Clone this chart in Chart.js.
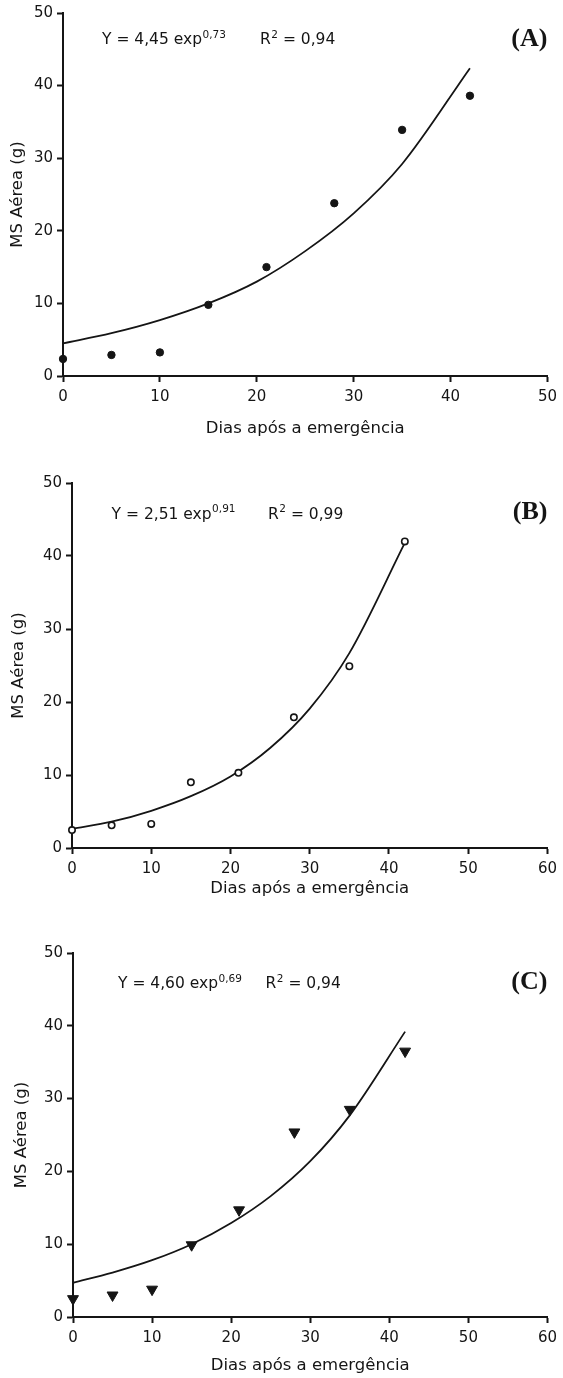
<!DOCTYPE html>
<html>
<head>
<meta charset="utf-8">
<script src="https://cdn.jsdelivr.net/npm/chart.js@4.4.1/dist/chart.umd.min.js"></script>
<style>
  body { margin: 0; background: #fff; width: 563px; height: 1378px; position: relative; overflow: hidden; }
  .painel { position: absolute; left: 0; width: 563px; }
</style>
</head>
<body>
<div class="painel" style="top:0;height:450px"><canvas id="grafA"></canvas></div>
<div class="painel" style="top:455px;height:450px"><canvas id="grafB"></canvas></div>
<div class="painel" style="top:920px;height:458px"><canvas id="grafC"></canvas></div>
<script>
// dias de coleta e MS aérea observada (g)
const dias = [0, 5, 10, 15, 21, 28, 35, 42];
const msA = [2.35, 2.9, 3.25, 9.8, 15.0, 23.8, 33.9, 38.6];
const msB = [2.45, 3.1, 3.3, 9.0, 10.3, 17.9, 24.9, 42.0];
const msC = [2.5, 3.0, 3.8, 9.9, 14.7, 25.4, 28.5, 36.5];

// curvas ajustadas (exponencial)
const diasCurva = [0, 5, 10, 15, 20, 25, 30, 35, 42];
const curvaA = [4.5, 5.9, 7.7, 10.0, 13.0, 17.2, 22.4, 29.2, 42.4];
const curvaB = [2.6, 3.6, 5.1, 7.1, 9.8, 13.7, 19.1, 26.7, 41.8];
const curvaC = [4.7, 6.1, 7.8, 10.0, 12.9, 16.6, 21.4, 27.7, 39.2];

// equações
const eqA = ['Y = 4,45 exp', '0,73', ' = 0,94'];
const eqB = ['Y = 2,51 exp', '0,91', ' = 0,99'];
const eqC = ['Y = 4,60 exp', '0,69', ' = 0,94'];

const PRETO = '#151515';
const FONTE = '"DejaVu Sans", sans-serif';

const equacao = {
  id: 'equacao',
  afterDraw(chart, args, o) {
    const ctx = chart.ctx;
    const { left, top, right } = chart.chartArea;
    ctx.save();
    ctx.fillStyle = PRETO;
    ctx.textBaseline = 'middle';
    const y = top + o.dy;
    let x = left + o.dx;
    ctx.font = '15.5px ' + FONTE;
    ctx.fillText(o.eq[0], x, y);
    x += ctx.measureText(o.eq[0]).width + 0.5;
    ctx.font = '10.5px ' + FONTE;
    ctx.fillText(o.eq[1], x, y - 5);
    x = left + o.dxR;
    ctx.font = '15.5px ' + FONTE;
    ctx.fillText('R', x, y);
    x += ctx.measureText('R').width + 0.5;
    ctx.font = '10.5px ' + FONTE;
    ctx.fillText('2', x, y - 5);
    x += ctx.measureText('2').width;
    ctx.font = '15.5px ' + FONTE;
    ctx.fillText(o.eq[2], x, y);
    // letra do painel
    ctx.font = 'bold 26px "Liberation Serif", serif';
    ctx.textAlign = 'right';
    ctx.fillText(o.painel, right, top + o.dyP);
    ctx.restore();
  }
};

function pontos(xs, ys) {
  return xs.map((d, i) => ({ x: d, y: ys[i] }));
}

function grafico(id, cfg) {
  const alturaCanvas = cfg.h;
  new Chart(document.getElementById(id), {
    type: 'line',
    data: {
      datasets: [
        {
          data: pontos(dias, cfg.obs),
          showLine: false,
          pointStyle: cfg.estilo,
          pointRotation: cfg.rot || 0,
          pointRadius: cfg.raio,
          pointBackgroundColor: cfg.fundo,
          pointBorderColor: PRETO,
          pointBorderWidth: cfg.borda,
          clip: false
        },
        {
          data: pontos(diasCurva, cfg.curva),
          borderColor: PRETO,
          borderWidth: 1.8,
          pointRadius: 0,
          cubicInterpolationMode: 'monotone',
          fill: false
        }
      ]
    },
    options: {
      animation: false,
      responsive: true,
      maintainAspectRatio: false,
      layout: { padding: { top: cfg.area.top, right: 563 - cfg.area.right, left: 0, bottom: 0 } },
      plugins: {
        legend: { display: false },
        tooltip: { enabled: false },
        equacao: cfg.eq
      },
      scales: {
        x: {
          type: 'linear',
          min: 0,
          max: cfg.xMax,
          afterFit: s => { s.height = alturaCanvas - cfg.area.bottom; },
          ticks: { stepSize: 10, color: PRETO, padding: 6, font: { family: FONTE, size: 15 } },
          grid: { drawOnChartArea: false, drawTicks: true, tickLength: 6, tickWidth: 2, tickColor: PRETO },
          border: { display: true, width: 2, color: PRETO },
          title: {
            display: true,
            text: 'Dias após a emergência',
            color: PRETO,
            font: { family: FONTE, size: 16.5 },
            padding: { top: 0, bottom: cfg.titX }
          }
        },
        y: {
          min: 0,
          max: 50,
          afterFit: s => { s.width = cfg.area.left; },
          ticks: { stepSize: 10, color: PRETO, padding: 4, font: { family: FONTE, size: 15 } },
          grid: { drawOnChartArea: false, drawTicks: true, tickLength: 6, tickWidth: 2, tickColor: PRETO },
          border: { display: true, width: 2, color: PRETO },
          title: {
            display: true,
            text: 'MS Aérea (g)',
            color: PRETO,
            font: { family: FONTE, size: 16.5 },
            padding: { top: cfg.titY, bottom: 0 }
          }
        }
      }
    },
    plugins: [equacao]
  });
}

grafico('grafA', {
  h: 450, xMax: 50,
  area: { left: 63, right: 550, top: 13, bottom: 376 },
  obs: msA, curva: curvaA,
  estilo: 'circle', raio: 3.7, fundo: PRETO, borda: 1,
  titX: 11, titY: 7.6,
  eq: { eq: eqA, painel: '(A)', dx: 39, dy: 27, dxR: 197, dyP: 26 }
});

grafico('grafB', {
  h: 450, xMax: 60,
  area: { left: 72, right: 548, top: 28, bottom: 393 },
  obs: msB, curva: curvaB,
  estilo: 'circle', raio: 3.2, fundo: '#fff', borda: 1.6,
  titX: 6, titY: 9,
  eq: { eq: eqB, painel: '(B)', dx: 39.6, dy: 31.7, dxR: 196, dyP: 29.2 }
});

grafico('grafC', {
  h: 458, xMax: 60,
  area: { left: 73, right: 550, top: 33, bottom: 397 },
  obs: msC, curva: curvaC,
  estilo: 'triangle', rot: 180, raio: 6.3, fundo: PRETO, borda: 1,
  titX: 2, titY: 11.5,
  eq: { eq: eqC, painel: '(C)', dx: 45, dy: 31, dxR: 192.5, dyP: 29.6 }
});
</script>
</body>
</html>
